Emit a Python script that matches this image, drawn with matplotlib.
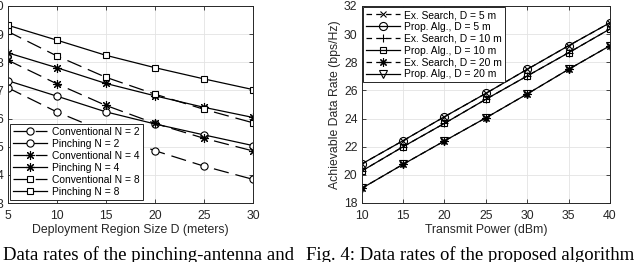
import matplotlib
matplotlib.use("Agg")
import matplotlib.pyplot as plt

plt.rcParams['font.family'] = ['Liberation Sans', 'DejaVu Sans']
plt.rcParams['lines.scale_dashes'] = False

# ---- Left chart data ----
region_D = [5, 10, 15, 20, 25, 30]
conv_N2 = [7.10, 6.24, 5.52, 4.86, 4.31, 3.84]
pinch_N2 = [7.35, 6.80, 6.24, 5.81, 5.42, 5.04]
conv_N4 = [8.08, 7.24, 6.47, 5.83, 5.30, 4.85]
pinch_N4 = [8.34, 7.81, 7.25, 6.81, 6.40, 6.04]
conv_N8 = [9.10, 8.23, 7.47, 6.87, 6.33, 5.85]
pinch_N8 = [9.32, 8.79, 8.25, 7.81, 7.41, 7.03]
left_xticks = [5, 10, 15, 20, 25, 30]
left_yticks = [3, 4, 5, 6, 7, 8, 9, 10]

# ---- Right chart data ----
power_dBm = [10, 15, 20, 25, 30, 35, 40]
ex_D5 = [20.77, 22.43, 24.13, 25.79, 27.50, 29.18, 30.81]
prop_D5 = [20.77, 22.43, 24.13, 25.79, 27.50, 29.18, 30.81]
ex_D10 = [20.27, 22.00, 23.66, 25.37, 27.03, 28.68, 30.37]
prop_D10 = [20.27, 22.00, 23.66, 25.37, 27.03, 28.68, 30.37]
ex_D20 = [19.04, 20.75, 22.41, 24.05, 25.75, 27.50, 29.18]
prop_D20 = [19.04, 20.75, 22.41, 24.05, 25.75, 27.50, 29.18]
right_xticks = [10, 15, 20, 25, 30, 35, 40]
right_yticks = [18, 20, 22, 24, 26, 28, 30, 32]

fig = plt.figure(figsize=(6.4, 2.62), dpi=100)
W, H = 640.0, 262.0
axL = fig.add_axes([7.5 / W, 59 / H, 245.5 / W, 197 / H])
axR = fig.add_axes([361.7 / W, 59 / H, 248.3 / W, 197 / H])

AX_COL = '#262626'
GRID_COL = '#e3e3e3'
LW = 0.9
long_dash = (0, (11, 5))
short_dash = (0, (4, 3))
ast = (8, 2, 0)

def style(ax):
    ax.grid(True, color=GRID_COL, linewidth=0.6)
    ax.set_axisbelow(True)
    for s in ax.spines.values():
        s.set_color(AX_COL)
        s.set_linewidth(0.7)
    ax.tick_params(direction='in', length=3, width=0.6, colors=AX_COL,
                   labelsize=8.8, top=True, right=True)
    ax.tick_params(axis='x', pad=5)
    ax.tick_params(axis='y', pad=3)

mk = dict(color='black', linewidth=LW, markerfacecolor='white',
          markeredgecolor='black', markeredgewidth=0.8)
mk_open = dict(color='black', linewidth=LW, markerfacecolor='none',
               markeredgecolor='black', markeredgewidth=0.8)

axL.plot(region_D, conv_N2, linestyle=long_dash, marker='o', markersize=5.2, label='Conventional N = 2', **mk)
axL.plot(region_D, pinch_N2, linestyle='-', marker='o', markersize=5.2, label='Pinching N = 2', **mk)
axL.plot(region_D, conv_N4, linestyle=long_dash, marker=ast, markersize=6.5, label='Conventional N = 4', **mk)
axL.plot(region_D, pinch_N4, linestyle='-', marker=ast, markersize=6.5, label='Pinching N = 4', **mk)
axL.plot(region_D, conv_N8, linestyle=long_dash, marker='s', markersize=3.8, label='Conventional N = 8', **mk)
axL.plot(region_D, pinch_N8, linestyle='-', marker='s', markersize=3.8, label='Pinching N = 8', **mk)
axL.set_xlim(5, 30)
axL.set_ylim(3, 10)
axL.set_xticks(left_xticks)
axL.set_yticks(left_yticks)
axL.set_xlabel('Deployment Region Size D (meters)', fontsize=8.8, color=AX_COL, labelpad=1.5)
style(axL)
legL = axL.legend(loc='lower left', bbox_to_anchor=(0.01, 0.015), borderaxespad=0,
                  fontsize=7.4, handlelength=3.3, handletextpad=0.5, labelspacing=0.2,
                  borderpad=0.3, fancybox=False, framealpha=1, edgecolor=AX_COL, numpoints=1)
legL.get_frame().set_linewidth(0.7)

axR.plot(power_dBm, ex_D5, linestyle=short_dash, marker='x', markersize=5, label='Ex. Search, D = 5 m', **mk)
axR.plot(power_dBm, prop_D5, linestyle='-', marker='o', markersize=5.8, label='Prop. Alg., D = 5 m', **mk_open)
axR.plot(power_dBm, ex_D10, linestyle=short_dash, marker='+', markersize=6, label='Ex. Search, D = 10 m', **mk)
axR.plot(power_dBm, prop_D10, linestyle='-', marker='s', markersize=4.5, label='Prop. Alg., D = 10 m', **mk_open)
axR.plot(power_dBm, ex_D20, linestyle=short_dash, marker=ast, markersize=6, label='Ex. Search, D = 20 m', **mk)
axR.plot(power_dBm, prop_D20, linestyle='-', marker='v', markersize=6.2, label='Prop. Alg., D = 20 m', **mk_open)
axR.set_xlim(10, 40)
axR.set_ylim(18, 32)
axR.set_xticks(right_xticks)
axR.set_yticks(right_yticks)
axR.set_xlabel('Transmit Power (dBm)', fontsize=8.8, color=AX_COL, labelpad=1.5)
axR.set_ylabel('Achievable Data Rate (bps/Hz)', fontsize=8.8, color=AX_COL, labelpad=2)
style(axR)
legR = axR.legend(loc='upper left', bbox_to_anchor=(0.0065, 0.995), borderaxespad=0,
                  fontsize=7.4, handlelength=3.3, handletextpad=0.4, labelspacing=0.18,
                  borderpad=0.3, fancybox=False, framealpha=1, edgecolor=AX_COL, numpoints=1)
legR.get_frame().set_linewidth(0.7)

fig.text(3 / W, 2.5 / H, 'Data rates of the pinching-antenna and', family='Liberation Serif',
         fontsize=13.5, ha='left', va='baseline')
fig.text(306 / W, 2.5 / H, 'Fig. 4: Data rates of the proposed algorithm', family='Liberation Serif',
         fontsize=13.5, ha='left', va='baseline')

fig.savefig('out.png', dpi=100)
